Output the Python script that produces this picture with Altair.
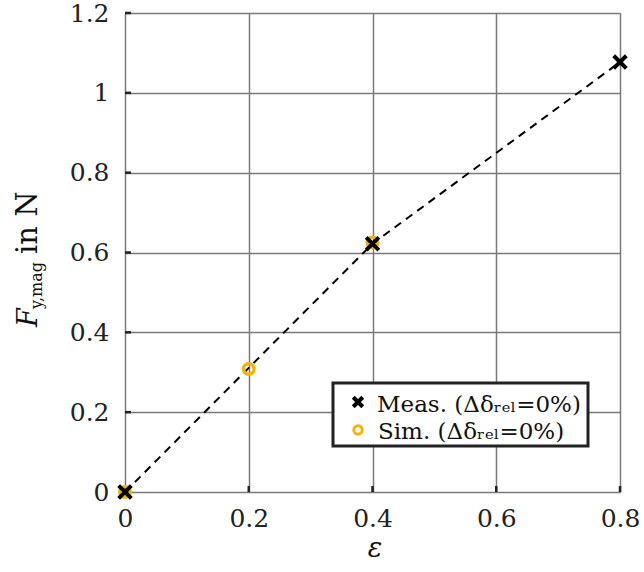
import altair as alt
import pandas as pd

# ---- data ----
eps_meas = [0.0, 0.4, 0.8]
F_meas = [0.0, 0.622, 1.077]
eps_sim = [0.0, 0.2, 0.4]
F_sim = [0.0, 0.308, 0.625]
x_ticks = [0, 0.2, 0.4, 0.6, 0.8]
y_ticks = [0, 0.2, 0.4, 0.6, 0.8, 1.0, 1.2]
legend_labels = ["Meas. (Δδᵣₑₗ=0%)", "Sim. (Δδᵣₑₗ=0%)"]

meas = pd.DataFrame({"eps": eps_meas, "F": F_meas})
sim = pd.DataFrame({"eps": eps_sim, "F": F_sim})
xt = pd.DataFrame({"v": x_ticks})
yt = pd.DataFrame({"v": y_ticks})
one = pd.DataFrame({"k": [0]})

FONT = "DejaVu Serif"
GOLD = "#F5B400"
CROSS = "M-1,-1L1,1M-1,1L1,-1"

xs = alt.Scale(domain=[0, 0.8], nice=False, zero=False)
ys = alt.Scale(domain=[0, 1.2], nice=False, zero=False)

xax = alt.Axis(values=x_ticks, format="~g", title=None, grid=True, ticks=False,
               domain=False, labelFont=FONT, labelFontSize=25, labelColor="#222",
               labelPadding=14, gridColor="#7a7a7a", gridWidth=1.5, gridOpacity=1,
               labelFlush=False)
yax = alt.Axis(values=y_ticks, format="~g", title=None, grid=True, ticks=False,
               domain=False, labelFont=FONT, labelFontSize=25, labelColor="#222",
               labelPadding=16, gridColor="#7a7a7a", gridWidth=1.5, gridOpacity=1,
               labelFlush=False)

line = alt.Chart(meas).mark_line(color="black", strokeWidth=2, strokeDash=[8, 6]).encode(
    x=alt.X("eps:Q", scale=xs, axis=xax),
    y=alt.Y("F:Q", scale=ys, axis=yax),
)
# small inward ticks on bottom and left edges
xticks_in = alt.Chart(xt).mark_rule(color="#222", strokeWidth=2.5).encode(
    x=alt.X("v:Q", scale=xs), y=alt.value(479), y2=alt.value(473))
yticks_in = alt.Chart(yt).mark_rule(color="#222", strokeWidth=2.5).encode(
    y=alt.Y("v:Q", scale=ys), x=alt.value(0), x2=alt.value(6))

sim_pts = alt.Chart(sim).mark_point(shape="circle", filled=False, color=GOLD,
                                    strokeWidth=3.5, size=110, opacity=1).encode(
    x=alt.X("eps:Q", scale=xs), y=alt.Y("F:Q", scale=ys))
meas_pts = alt.Chart(meas).mark_point(shape=CROSS, filled=False, color="black",
                                      strokeWidth=4, size=160, opacity=1).encode(
    x=alt.X("eps:Q", scale=xs), y=alt.Y("F:Q", scale=ys))

# ---- legend (drawn inside the plot) ----
def txt(s, x, y, size=23, style="normal", align="left", angle=0, baseline="alphabetic"):
    kw = dict(text=s, font=FONT, fontSize=size, fontStyle=style, align=align,
              baseline=baseline, color="#111")
    if angle:
        kw["angle"] = angle
    return alt.Chart(one).mark_text(**kw).encode(x=alt.value(x), y=alt.value(y))

box = alt.Chart(one).mark_rect(fill="white", stroke="#222", strokeWidth=3).encode(
    x=alt.value(208), x2=alt.value(463), y=alt.value(370), y2=alt.value(433))
leg_cross = alt.Chart(one).mark_point(shape=CROSS, filled=False, color="black",
                                      strokeWidth=4, size=90, opacity=1).encode(
    x=alt.value(233), y=alt.value(389))
leg_circ = alt.Chart(one).mark_point(shape="circle", filled=False, color=GOLD,
                                     strokeWidth=3, size=70, opacity=1).encode(
    x=alt.value(233), y=alt.value(417))

legend_layers = [
    box, leg_cross, leg_circ,
    txt(legend_labels[0], 252, 399),
    txt(legend_labels[1], 253, 426),
]

# ---- axis titles ----
titles = [
    txt("F", -88, 314, size=27, style="italic", angle=270),
    txt("y,mag", -83, 296, size=16, angle=270),
    txt("in N", -88, 241, size=29, angle=270),
    txt("ε", 250, 544, size=27, style="italic", align="center"),
]

chart = alt.layer(line, xticks_in, yticks_in, sim_pts, meas_pts,
                  *legend_layers, *titles).properties(
    width=495, height=479,
    autosize=alt.AutoSizeParams(type="none"),
    padding={"left": 125, "top": 13, "right": 24, "bottom": 80},
).configure_view(stroke="#222", strokeWidth=3).configure(background="white")

chart.save("out.html", embed_options={"renderer": "svg", "actions": False})
